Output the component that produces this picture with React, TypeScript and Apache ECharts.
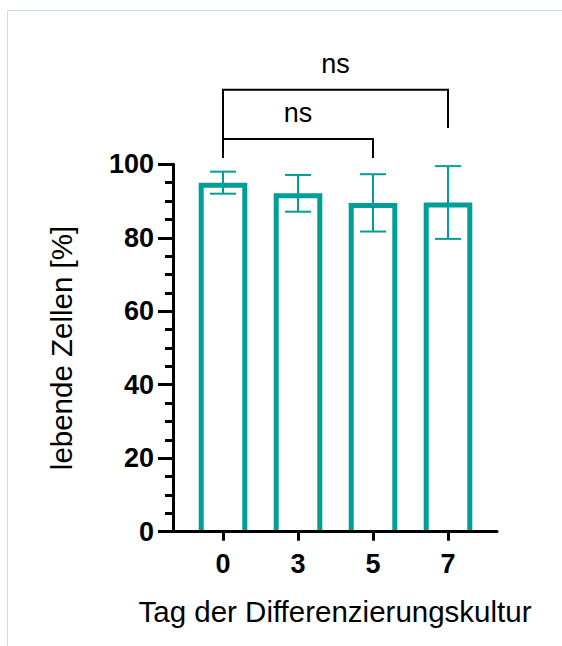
import React, { useEffect, useRef } from 'react';
import * as echarts from 'echarts';

// ---- data ----
const categories = ['0', '3', '5', '7'];
const means = [95.0, 92.1, 89.5, 89.6];
const errors = [3.0, 5.0, 7.8, 9.9];
const yTickValues = [0, 20, 40, 60, 80, 100];

// significance comparisons (category index from/to, bracket level and leg ends in % units)
const compFrom = [0, 0];
const compTo = [2, 3];
const compLevel = [106.9, 120.3];
const compLeftEnd = [101.7, 106.9];
const compRightEnd = [101.7, 109.9];
const compLabels = ['ns', 'ns'];

const TEAL = '#009e97';
const FONT = '"Liberation Sans", Arial, Helvetica, sans-serif';
const BAR_HALF_UNITS = 0.324;
const BORDER = 5;
const CAP_HALF = 13;

export default function App() {
  const ref = useRef<HTMLDivElement>(null);

  useEffect(() => {
    if (!ref.current) return;
    const chart = echarts.init(ref.current, null, { renderer: 'svg' });
    const idx = categories.map((_, i) => i);

    const option: any = {
      animation: false,
      backgroundColor: '#ffffff',
      textStyle: { fontFamily: FONT },
      grid: { left: 173, right: 65, top: 164.3, bottom: 114.3, containLabel: false, outerBoundsMode: 'none' },
      graphic: [
        {
          type: 'rect',
          silent: true,
          z: -10,
          shape: { x: 7.5, y: 10.5, width: 700, height: 700 },
          style: { fill: 'none', stroke: '#c3dcf3', lineWidth: 1 },
        },
      ],
      xAxis: {
        type: 'value',
        min: -0.6667,
        max: 3.6533,
        z: 10,
        name: 'Tag der Differenzierungskultur',
        nameLocation: 'middle',
        nameGap: 65,
        nameTextStyle: { fontSize: 29.5, color: '#000', fontFamily: FONT },
        axisLine: { show: true, onZero: false, lineStyle: { color: '#000', width: 3 } },
        axisTick: { show: true, customValues: idx, length: 9, lineStyle: { color: '#000', width: 3 } },
        axisLabel: {
          customValues: idx,
          formatter: (v: number) => categories[Math.round(v)] ?? '',
          margin: 19,
          fontSize: 27,
          fontWeight: 'bold',
          color: '#000',
          fontFamily: FONT,
        },
        splitLine: { show: false },
      },
      yAxis: {
        type: 'value',
        min: yTickValues[0],
        max: yTickValues[yTickValues.length - 1],
        interval: yTickValues[1] - yTickValues[0],
        z: 10,
        name: 'lebende Zellen [%]',
        nameLocation: 'middle',
        nameGap: 97,
        nameTextStyle: { fontSize: 29.5, color: '#000', fontFamily: FONT },
        axisLine: { show: true, onZero: false, lineStyle: { color: '#000', width: 3 } },
        axisTick: { show: true, length: 15, lineStyle: { color: '#000', width: 3 } },
        minorTick: { show: true, splitNumber: 4, length: 8, lineStyle: { color: '#000', width: 3 } },
        axisLabel: { margin: 19, fontSize: 27, fontWeight: 'bold', color: '#000', fontFamily: FONT },
        splitLine: { show: false },
        minorSplitLine: { show: false },
      },
      series: [
        {
          type: 'custom',
          clip: false,
          z: 3,
          data: means.map((m, i) => [i, m, errors[i]]),
          encode: { x: 0, y: 1 },
          renderItem: (params: any, api: any) => {
            const x = api.value(0);
            const m = api.value(1);
            const e = api.value(2);
            const top = api.coord([x, m]);
            const base = api.coord([x, 0]);
            const hi = api.coord([x, m + e]);
            const lo = api.coord([x, m - e]);
            const right = api.coord([x + BAR_HALF_UNITS, m]);
            const cx = top[0];
            const half = right[0] - cx - BORDER / 2;
            const ty = top[1] + BORDER / 2;
            return {
              type: 'group',
              children: [
                {
                  type: 'polyline',
                  shape: { points: [[cx - half, base[1]], [cx - half, ty], [cx + half, ty], [cx + half, base[1]]] },
                  style: { stroke: TEAL, lineWidth: BORDER, fill: 'none', lineJoin: 'miter' },
                },
                { type: 'line', shape: { x1: cx, y1: lo[1], x2: cx, y2: hi[1] }, style: { stroke: TEAL, lineWidth: 2 } },
                { type: 'line', shape: { x1: cx - CAP_HALF, y1: hi[1], x2: cx + CAP_HALF, y2: hi[1] }, style: { stroke: TEAL, lineWidth: 2 } },
                { type: 'line', shape: { x1: cx - CAP_HALF, y1: lo[1], x2: cx + CAP_HALF, y2: lo[1] }, style: { stroke: TEAL, lineWidth: 2 } },
              ],
            };
          },
        },
        {
          type: 'custom',
          clip: false,
          z: 4,
          data: compFrom.map((f, i) => [f, compTo[i], compLevel[i], compLeftEnd[i], compRightEnd[i]]),
          encode: { x: [0, 1], y: [2, 3, 4] },
          renderItem: (params: any, api: any) => {
            const a = api.coord([api.value(0), api.value(2)]);
            const b = api.coord([api.value(1), api.value(2)]);
            const la = api.coord([api.value(0), api.value(3)]);
            const rb = api.coord([api.value(1), api.value(4)]);
            return {
              type: 'group',
              children: [
                {
                  type: 'polyline',
                  shape: { points: [[la[0], la[1]], [a[0], a[1]], [b[0], b[1]], [rb[0], rb[1]]] },
                  style: { stroke: '#000', lineWidth: 2, fill: 'none' },
                },
                {
                  type: 'text',
                  x: (a[0] + b[0]) / 2,
                  y: a[1] - 12,
                  style: {
                    text: compLabels[params.dataIndex],
                    fontSize: 27,
                    fontFamily: FONT,
                    fill: '#000',
                    align: 'center',
                    verticalAlign: 'bottom',
                  },
                },
              ],
            };
          },
        },
      ],
    };

    chart.setOption(option);
    return () => chart.dispose();
  }, []);

  return (
    <div
      ref={ref}
      style={{ position: 'fixed', left: 0, top: 0, width: 562, height: 646 }}
    />
  );
}
